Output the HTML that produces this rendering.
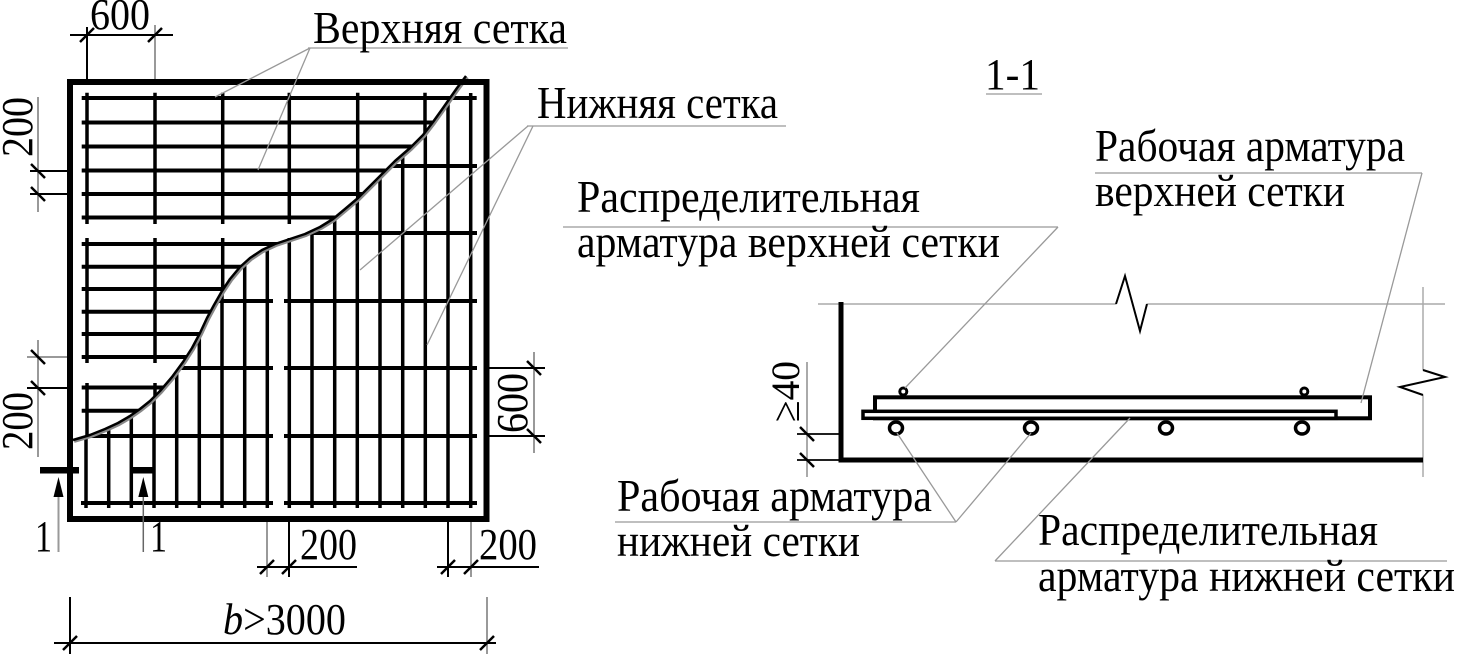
<!DOCTYPE html>
<html><head><meta charset="utf-8"><style>
html,body{margin:0;padding:0;background:#fff;}
svg{display:block;}
text{font-family:"Liberation Serif","DejaVu Serif",serif;fill:#000;}
</style></head><body>
<svg width="1458" height="659" viewBox="0 0 1458 659" xmlns="http://www.w3.org/2000/svg">
<defs>
<clipPath id="up"><polygon points="60,60 475,60 466,76 457,88 450,98 443,108 433,122 423,135 410,148 395,161 380,176 368,188 358,198 345,209 333,219 320,227 305,234 290,239 275,244 262,250 250,258 240,267 230,279 222,291 214,305 207,318 200,333 192,348 183,362 172,377 160,391 150,401 140,409 130,416 118,423 105,429 90,435 73,440 60,441"/></clipPath>
<clipPath id="lo"><polygon points="475,60 500,60 500,530 60,530 60,441 73,440 90,435 105,429 118,423 130,416 140,409 150,401 160,391 172,377 183,362 192,348 200,333 207,318 214,305 222,291 230,279 240,267 250,258 262,250 275,244 290,239 305,234 320,227 333,219 345,209 358,198 368,188 380,176 395,161 410,148 423,135 433,122 443,108 450,98 457,88 466,76"/></clipPath>
</defs>

<!-- upper mesh -->
<g clip-path="url(#up)" stroke="#000">
<g stroke-width="4">
<line x1="81.7" y1="122.5" x2="476.7" y2="122.5"/><line x1="81.7" y1="146.5" x2="476.7" y2="146.5"/>
<line x1="81.7" y1="170.5" x2="476.7" y2="170.5"/><line x1="81.7" y1="194" x2="476.7" y2="194"/>
<line x1="81.7" y1="217.5" x2="476.7" y2="217.5"/>
<line x1="81.7" y1="244" x2="476.7" y2="244"/><line x1="81.7" y1="266.7" x2="476.7" y2="266.7"/>
<line x1="81.7" y1="289" x2="476.7" y2="289"/><line x1="81.7" y1="311.7" x2="476.7" y2="311.7"/>
<line x1="81.7" y1="334" x2="476.7" y2="334"/><line x1="81.7" y1="357" x2="476.7" y2="357"/>
<line x1="81.7" y1="387.5" x2="476.7" y2="387.5"/><line x1="81.7" y1="410.7" x2="476.7" y2="410.7"/>
</g>
<g stroke-width="3.5">
<line x1="87" y1="92.7" x2="87" y2="224"/><line x1="155" y1="92.7" x2="155" y2="224"/><line x1="222.7" y1="92.7" x2="222.7" y2="224"/><line x1="289.3" y1="92.7" x2="289.3" y2="224"/><line x1="357.7" y1="92.7" x2="357.7" y2="224"/><line x1="425" y1="92.7" x2="425" y2="224"/>
<line x1="87" y1="238" x2="87" y2="363"/><line x1="155" y1="238" x2="155" y2="363"/><line x1="222.7" y1="238" x2="222.7" y2="363"/><line x1="289.3" y1="238" x2="289.3" y2="363"/><line x1="357.7" y1="238" x2="357.7" y2="363"/><line x1="425" y1="238" x2="425" y2="363"/>
<line x1="87" y1="383" x2="87" y2="510"/><line x1="155" y1="383" x2="155" y2="510"/><line x1="222.7" y1="383" x2="222.7" y2="510"/>
</g>
</g>
<line x1="81.7" y1="98" x2="476.7" y2="98" stroke="#000" stroke-width="4"/>

<!-- lower mesh -->
<g clip-path="url(#lo)" stroke="#000">
<g stroke-width="3.5">
<line x1="86" y1="93" x2="86" y2="508"/><line x1="108.7" y1="93" x2="108.7" y2="508"/><line x1="131.3" y1="93" x2="131.3" y2="508"/><line x1="154" y1="93" x2="154" y2="508"/><line x1="176.7" y1="93" x2="176.7" y2="508"/><line x1="199.3" y1="93" x2="199.3" y2="508"/><line x1="222" y1="93" x2="222" y2="508"/><line x1="244.7" y1="93" x2="244.7" y2="508"/><line x1="267.3" y1="93" x2="267.3" y2="508"/>
<line x1="289.3" y1="93" x2="289.3" y2="508"/><line x1="312" y1="93" x2="312" y2="508"/><line x1="334.7" y1="93" x2="334.7" y2="508"/><line x1="357.3" y1="93" x2="357.3" y2="508"/><line x1="380" y1="93" x2="380" y2="508"/><line x1="402.7" y1="93" x2="402.7" y2="508"/><line x1="425.3" y1="93" x2="425.3" y2="508"/><line x1="448" y1="93" x2="448" y2="508"/><line x1="470.7" y1="93" x2="470.7" y2="508"/>
</g>
<g stroke-width="4">
<line x1="81" y1="166" x2="273" y2="166"/><line x1="284" y1="166" x2="477" y2="166"/>
<line x1="81" y1="233" x2="273" y2="233"/><line x1="284" y1="233" x2="477" y2="233"/>
<line x1="81" y1="301" x2="273" y2="301"/><line x1="284" y1="301" x2="477" y2="301"/>
<line x1="81" y1="368" x2="273" y2="368"/><line x1="284" y1="368" x2="477" y2="368"/>
<line x1="81" y1="436" x2="273" y2="436"/><line x1="284" y1="436" x2="477" y2="436"/>
<line x1="81" y1="503" x2="273" y2="503"/><line x1="284" y1="503" x2="477" y2="503"/>
</g>
</g>

<!-- break curve -->
<polyline points="466,76 457,88 450,98 443,108 433,122 423,135 410,148 395,161 380,176 368,188 358,198 345,209 333,219 320,227 305,234 290,239 275,244 262,250 250,258 240,267 230,279 222,291 214,305 207,318 200,333 192,348 183,362 172,377 160,391 150,401 140,409 130,416 118,423 105,429 90,435 73,440" fill="none" stroke="#888" stroke-width="4" stroke-linejoin="round" transform="translate(1,1)"/>
<polyline points="466,76 457,88 450,98 443,108 433,122 423,135 410,148 395,161 380,176 368,188 358,198 345,209 333,219 320,227 305,234 290,239 275,244 262,250 250,258 240,267 230,279 222,291 214,305 207,318 200,333 192,348 183,362 172,377 160,391 150,401 140,409 130,416 118,423 105,429 90,435 73,440" fill="none" stroke="#000" stroke-width="2.5" stroke-linejoin="round"/>

<!-- outer border -->
<rect x="70" y="82" width="416.5" height="437" fill="none" stroke="#000" stroke-width="6"/>

<!-- leaders left -->
<g stroke="#999" stroke-width="1.3" fill="none">
<line x1="308" y1="48" x2="568" y2="48"/>
<line x1="310" y1="48" x2="215" y2="97"/>
<line x1="310" y1="48" x2="258" y2="170"/>
<line x1="527" y1="126" x2="786" y2="126"/>
<line x1="528" y1="126" x2="360" y2="270"/>
<line x1="533" y1="126" x2="427" y2="345"/>
</g>

<!-- dimensions left plan -->
<g stroke="#000" stroke-width="2">
<line x1="70" y1="35" x2="173" y2="35"/>
<line x1="87" y1="27" x2="87" y2="79"/>
<line x1="30" y1="171" x2="67" y2="171"/>
<line x1="30" y1="194" x2="67" y2="194"/>
<line x1="27" y1="388" x2="67" y2="388"/>
<line x1="489" y1="368" x2="545" y2="368"/>
<line x1="489" y1="436" x2="545" y2="436"/>
<line x1="257" y1="567" x2="357" y2="567"/>
<line x1="437" y1="567" x2="539" y2="567"/>
<line x1="54" y1="643" x2="496" y2="643"/>
<line x1="70" y1="597" x2="70" y2="654"/>
<line x1="289" y1="522" x2="289" y2="577"/>
<line x1="448" y1="522" x2="448" y2="577"/>
</g>
<g stroke="#999" stroke-width="2">
<line x1="155" y1="25" x2="155" y2="79"/>
<line x1="38" y1="97" x2="38" y2="212"/>
<line x1="38" y1="340" x2="38" y2="457"/>
<line x1="27" y1="357" x2="67" y2="357"/>
<line x1="534" y1="352" x2="534" y2="453"/>
<line x1="267" y1="522" x2="267" y2="577"/>
<line x1="471" y1="522" x2="471" y2="577"/>
<line x1="487" y1="597" x2="487" y2="654"/>
</g>
<g stroke="#000" stroke-width="2.5">
<line x1="80" y1="42" x2="94" y2="28"/><line x1="148" y1="42" x2="162" y2="28"/>
<line x1="31" y1="164" x2="45" y2="178"/><line x1="31" y1="187" x2="45" y2="201"/>
<line x1="31" y1="350" x2="45" y2="364"/><line x1="31" y1="381" x2="45" y2="395"/>
<line x1="527" y1="361" x2="541" y2="375"/><line x1="527" y1="429" x2="541" y2="443"/>
<line x1="260" y1="574" x2="274" y2="560"/><line x1="282" y1="574" x2="296" y2="560"/>
<line x1="441" y1="574" x2="455" y2="560"/><line x1="464" y1="574" x2="478" y2="560"/>
<line x1="63" y1="650" x2="77" y2="636"/><line x1="480" y1="650" x2="494" y2="636"/>
</g>

<!-- section markers -->
<rect x="40" y="467" width="39" height="6.5" fill="#000"/>
<rect x="130" y="467" width="24" height="6.5" fill="#000"/>
<line x1="58.5" y1="495" x2="58.5" y2="552" stroke="#999" stroke-width="2"/>
<line x1="143.3" y1="495" x2="143.3" y2="552" stroke="#666" stroke-width="1.5"/>
<polygon points="58.5,477 53.5,497 63.5,497" fill="#000"/>
<polygon points="143.3,477 138.3,497 148.3,497" fill="#000"/>

<!-- left texts -->
<text x="90" y="29" font-size="44" textLength="60" lengthAdjust="spacingAndGlyphs">600</text>
<text x="313" y="43" font-size="46" textLength="254" lengthAdjust="spacingAndGlyphs">Верхняя сетка</text>
<text x="537" y="118" font-size="46" textLength="241" lengthAdjust="spacingAndGlyphs">Нижняя сетка</text>
<text transform="translate(32,157) rotate(-90)" font-size="44" textLength="60" lengthAdjust="spacingAndGlyphs">200</text>
<text transform="translate(32,450) rotate(-90)" font-size="44" textLength="58" lengthAdjust="spacingAndGlyphs">200</text>
<text transform="translate(527,433) rotate(-90)" font-size="44" textLength="60" lengthAdjust="spacingAndGlyphs">600</text>
<text x="300" y="559" font-size="44" textLength="57" lengthAdjust="spacingAndGlyphs">200</text>
<text x="479" y="559" font-size="44" textLength="58" lengthAdjust="spacingAndGlyphs">200</text>
<text x="35" y="551" font-size="44" textLength="17" lengthAdjust="spacingAndGlyphs">1</text>
<text x="150" y="551" font-size="44" textLength="17" lengthAdjust="spacingAndGlyphs">1</text>
<text x="223" y="634" font-size="44" textLength="123" lengthAdjust="spacingAndGlyphs"><tspan font-style="italic">b</tspan>&gt;3000</text>

<!-- section 1-1 -->
<text x="985" y="89" font-size="44" textLength="55" lengthAdjust="spacingAndGlyphs">1-1</text>
<line x1="986" y1="94" x2="1042" y2="94" stroke="#999" stroke-width="1.3"/>

<g stroke="#aaa" stroke-width="1.5">
<line x1="818" y1="304" x2="1116" y2="304"/>
<line x1="1147" y1="304" x2="1445" y2="304"/>
<line x1="1423" y1="287" x2="1423" y2="370"/>
<line x1="1423" y1="395" x2="1423" y2="477"/>
<line x1="807" y1="362" x2="807" y2="477" stroke-width="2"/>
</g>
<polyline points="1116,304 1125,276 1140,331 1147,304" fill="none" stroke="#000" stroke-width="2"/>
<polyline points="1423,370 1445,377 1400,387 1423,395" fill="none" stroke="#000" stroke-width="2"/>
<line x1="841" y1="302" x2="841" y2="462" stroke="#000" stroke-width="5"/>
<line x1="838.5" y1="460" x2="1423" y2="460" stroke="#000" stroke-width="5"/>
<g stroke="#000" stroke-width="1.8">
<line x1="797" y1="434" x2="839" y2="434"/>
<line x1="797" y1="460" x2="839" y2="460"/>
</g>
<g stroke="#000" stroke-width="2.5">
<line x1="800" y1="427" x2="814" y2="441"/>
<line x1="800" y1="453" x2="814" y2="467"/>
</g>
<text transform="translate(799,422) rotate(-90)" font-size="40" textLength="61" lengthAdjust="spacingAndGlyphs">≥40</text>

<!-- bars -->
<circle cx="903.3" cy="391.5" r="3.5" fill="none" stroke="#000" stroke-width="3"/>
<circle cx="1304.3" cy="391.5" r="3.5" fill="none" stroke="#000" stroke-width="3"/>
<rect x="875" y="397.3" width="495" height="21" fill="#fff" stroke="#000" stroke-width="4"/>
<rect x="863" y="411.3" width="473" height="7" fill="#fff" stroke="#000" stroke-width="3.5"/>
<g fill="none" stroke="#000" stroke-width="3.5">
<ellipse cx="896" cy="428" rx="6.5" ry="6"/>
<ellipse cx="1031" cy="428" rx="6.5" ry="6"/>
<ellipse cx="1166" cy="428" rx="6.5" ry="6"/>
<ellipse cx="1302" cy="428" rx="6.5" ry="6"/>
</g>

<!-- right leaders -->
<g stroke="#999" stroke-width="1.3" fill="none">
<line x1="1095" y1="173" x2="1422" y2="173"/>
<line x1="1422" y1="173" x2="1361" y2="403"/>
<line x1="563" y1="227" x2="1058" y2="227"/>
<line x1="1058" y1="227" x2="905" y2="388"/>
<line x1="615" y1="522" x2="956" y2="522"/>
<line x1="956" y1="522" x2="897" y2="433"/>
<line x1="956" y1="522" x2="1031" y2="433"/>
<line x1="995" y1="561" x2="1447" y2="561"/>
<line x1="995" y1="561" x2="1130" y2="418"/>
</g>

<!-- right texts -->
<text x="1095" y="161" font-size="46" textLength="310" lengthAdjust="spacingAndGlyphs">Рабочая арматура</text>
<text x="1095" y="206" font-size="46" textLength="250" lengthAdjust="spacingAndGlyphs">верхней сетки</text>
<text x="577" y="212" font-size="46" textLength="343" lengthAdjust="spacingAndGlyphs">Распределительная</text>
<text x="577" y="257" font-size="46" textLength="423" lengthAdjust="spacingAndGlyphs">арматура верхней сетки</text>
<text x="617" y="511" font-size="46" textLength="315" lengthAdjust="spacingAndGlyphs">Рабочая арматура</text>
<text x="617" y="556" font-size="46" textLength="243" lengthAdjust="spacingAndGlyphs">нижней сетки</text>
<text x="1038" y="545" font-size="46" textLength="340" lengthAdjust="spacingAndGlyphs">Распределительная</text>
<text x="1038" y="591" font-size="46" textLength="417" lengthAdjust="spacingAndGlyphs">арматура нижней сетки</text>
</svg>
</body></html>
